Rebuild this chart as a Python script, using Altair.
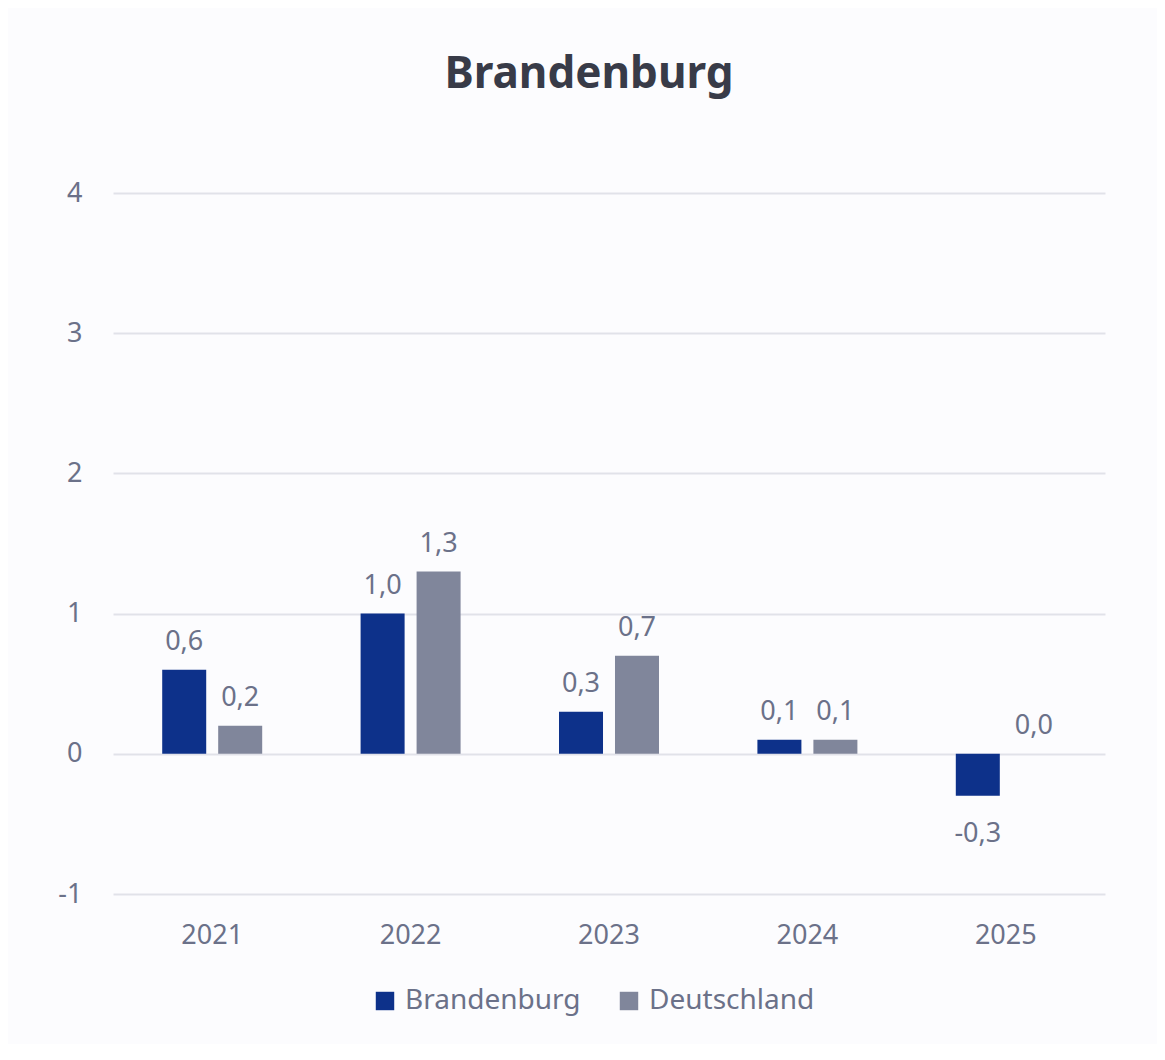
import altair as alt
import pandas as pd

years = ["2021", "2022", "2023", "2024", "2025"]
brandenburg = [0.6, 1.0, 0.3, 0.1, -0.3]
deutschland = [0.2, 1.3, 0.7, 0.1, 0.0]
series = ["Brandenburg", "Deutschland"]
colors = ["#0d318a", "#80869b"]
y_ticks = [-1, 0, 1, 2, 3, 4]

rows = []
for i, y in enumerate(years):
    for s, vals in zip(series, [brandenburg, deutschland]):
        v = vals[i]
        rows.append({"year": y, "series": s, "value": v,
                     "label": f"{v:.1f}".replace(".", ",")})
df = pd.DataFrame(rows)

FONT = "Noto Sans"
TXT = "#6b7189"
FS = 27

x = alt.X("year:N", title=None,
          scale=alt.Scale(paddingInner=0.496, paddingOuter=0.248),
          axis=alt.Axis(labelAngle=0, domain=False, ticks=False, labelPadding=28,
                        labelFontSize=FS, labelColor=TXT, labelFont=FONT))
xo = alt.XOffset("series:N", scale=alt.Scale(paddingInner=0.214, paddingOuter=0),
                 sort=series)
yenc = alt.Y("value:Q", title=None,
             scale=alt.Scale(domain=[-1, 4], nice=False, zero=False),
             axis=alt.Axis(values=y_ticks, domain=False, ticks=False, labelPadding=31,
                           labelFontSize=FS, labelColor=TXT, labelFont=FONT,
                           gridColor="#e1e2e9", gridWidth=2,
                           labelExpr="datum.value"))
color = alt.Color("series:N", sort=series,
                  scale=alt.Scale(domain=series, range=colors),
                  legend=alt.Legend(title=None, orient="none", direction="horizontal",
                                    legendX=258, legendY=794,
                                    symbolType="square", symbolSize=340,
                                    symbolStrokeWidth=0, labelLimit=0,
                                    labelFontSize=28, labelColor=TXT, labelFont=FONT,
                                    columnPadding=34, labelOffset=6))

base = alt.Chart(df)
bars = base.mark_bar().encode(x=x, xOffset=xo, y=yenc, color=color)
pos = base.transform_filter("datum.value >= 0").mark_text(
    font=FONT, fontSize=FS, color=TXT, baseline="alphabetic", dy=-20
).encode(x=x, xOffset=xo, y=yenc, text="label:N")
neg = base.transform_filter("datum.value < 0").mark_text(
    font=FONT, fontSize=FS, color=TXT, baseline="alphabetic", dy=46
).encode(x=x, xOffset=xo, y=yenc, text="label:N")

chart = alt.layer(bars, pos, neg).properties(
    width=992, height=701,
    autosize=alt.AutoSizeParams(type="none"),
    padding={"left": 105, "top": 185, "right": 52, "bottom": 150},
    background="#fcfcfe",
    title=alt.TitleParams("Brandenburg", font=FONT, fontSize=44, fontWeight="bold",
                          color="#383b48", anchor="middle", offset=82, dx=-20),
).configure_view(stroke=None)

chart.save("out.html", embed_options={"renderer": "svg", "actions": False})
